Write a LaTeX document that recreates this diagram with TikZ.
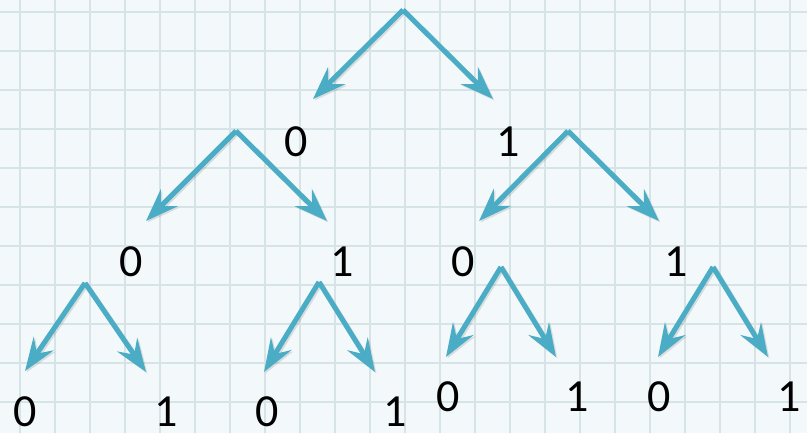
\documentclass[tikz,border=0pt]{standalone}
\usepackage{fontspec}
\setmainfont{Carlito}
\usetikzlibrary{arrows.meta}
\definecolor{paperbg}{RGB}{243,249,251}
\definecolor{gridcol}{RGB}{214,228,231}
\definecolor{arrowcol}{RGB}{75,172,198}
\definecolor{shadowcol}{RGB}{90,90,90}

\begin{document}
\begin{tikzpicture}[
    x=1pt, y=-1pt,
    branch/.style={arrowcol, line width=5pt,
                   -{Stealth[length=33pt, width=24pt, inset=12pt]}},
    branchshadow/.style={shadowcol, opacity=0.18, line width=5pt,
                   -{Stealth[length=33pt, width=24pt, inset=12pt]}},
    digit/.style={font=\fontsize{46}{54}\selectfont, text=black,
                  inner sep=0pt},
]

\path[use as bounding box] (0,0) rectangle (807,433);

% ════════════════════════════════════════════════════════
% 0. SQUARED PAPER
% ════════════════════════════════════════════════════════
\fill[paperbg] (0,0) rectangle (807,433);
\foreach \x in {20,55,...,800}{
    \draw[gridcol, line width=2.2pt] (\x,0) -- (\x,433);
}
\foreach \y in {12,51,...,433}{
    \draw[gridcol, line width=2.2pt] (0,\y) -- (807,\y);
}

% ════════════════════════════════════════════════════════
% 1. BRANCH POINTS AND ARROW ENDS
% ════════════════════════════════════════════════════════
\coordinate (A)   at (403, 10);
\coordinate (A0)  at (313, 99);
\coordinate (A1)  at (493, 99);

\coordinate (B0)  at (236,131);
\coordinate (B00) at (146,221);
\coordinate (B01) at (327,221);
\coordinate (B1)  at (568,131);
\coordinate (B10) at (479,221);
\coordinate (B11) at (659,221);

\coordinate (C00)  at ( 85,283);
\coordinate (C000) at ( 25,371);
\coordinate (C001) at (146,372);
\coordinate (C01)  at (319,282);
\coordinate (C010) at (264,372);
\coordinate (C011) at (375,372);
\coordinate (C10)  at (501,267);
\coordinate (C100) at (446,357);
\coordinate (C101) at (556,357);
\coordinate (C11)  at (713,267);
\coordinate (C110) at (658,357);
\coordinate (C111) at (768,357);

% ════════════════════════════════════════════════════════
% 2. ARROWS (soft shadow first)
% ════════════════════════════════════════════════════════
\foreach \from/\to in {A/A0, A/A1, B0/B00, B0/B01, B1/B10, B1/B11,
                       C00/C000, C00/C001, C01/C010, C01/C011,
                       C10/C100, C10/C101, C11/C110, C11/C111}{
    \draw[branchshadow] ([xshift=1.5pt, yshift=-1.5pt]\from)
        -- ([xshift=1.5pt, yshift=-1.5pt]\to);
    \draw[branch] (\from) -- (\to);
}

% ════════════════════════════════════════════════════════
% 3. DIGIT LABELS
% ════════════════════════════════════════════════════════
\node[digit] (lab0)   at (296,142) {0};
\node[digit] (lab1)   at (508,142) {1};

\node[digit] (lab00)  at (131,262) {0};
\node[digit] (lab01)  at (342,262) {1};
\node[digit] (lab10)  at (463,262) {0};
\node[digit] (lab11)  at (676,262) {1};

\node[digit] (lab000) at ( 25,412) {0};
\node[digit] (lab001) at (166,412) {1};
\node[digit] (lab010) at (267,412) {0};
\node[digit] (lab011) at (395,412) {1};
\node[digit] (lab100) at (448,397) {0};
\node[digit] (lab101) at (577,397) {1};
\node[digit] (lab110) at (659,397) {0};
\node[digit] (lab111) at (789,397) {1};

\end{tikzpicture}
\end{document}
